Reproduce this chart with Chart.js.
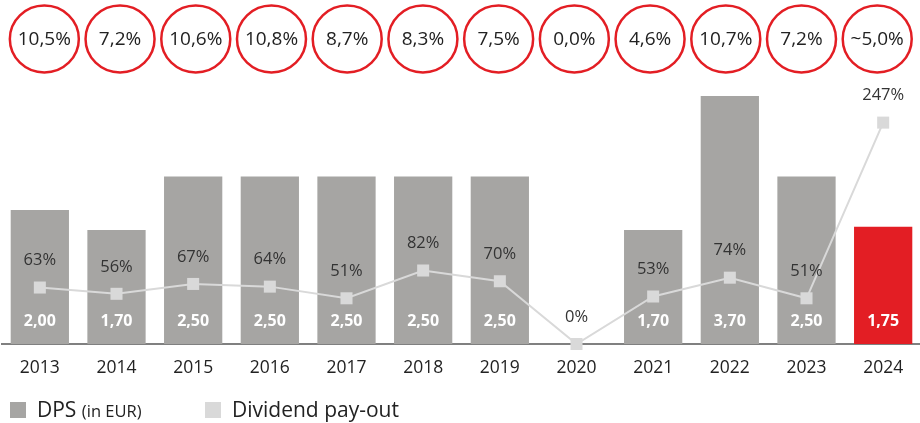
<!DOCTYPE html>
<html>
<head>
<meta charset="utf-8">
<script src="https://cdn.jsdelivr.net/npm/chart.js@4"></script>
<style>
  html, body { margin: 0; padding: 0; background: #fff; overflow: hidden; }
  #wrap { position: relative; width: 920px; height: 423px; overflow: hidden; font-family: "Open Sans", sans-serif; }
  /* canvas is wider than the page so the point overflow padding falls outside */
  #chart { position: absolute; left: -7.5px; top: 0; }
  .legend { position: absolute; top: 396px; color: #222; font-size: 21px; line-height: 26px; white-space: nowrap; }
  .legend .box { display: inline-block; width: 16px; height: 16px; vertical-align: -1px; margin-right: 11px; }
  .legend small { font-size: 16.5px; }
</style>
</head>
<body>
<div id="wrap">
  <canvas id="chart" width="937" height="423"></canvas>
  <div class="legend" style="left:10px"><span class="box" style="background:#a6a5a3"></span>DPS <small>(in EUR)</small></div>
  <div class="legend" style="left:205px"><span class="box" style="background:#d9d9d9"></span>Dividend pay-out</div>
</div>
<script>
const years = ['2013', '2014', '2015', '2016', '2017', '2018', '2019', '2020', '2021', '2022', '2023', '2024'];
const dps = [2.00, 1.70, 2.50, 2.50, 2.50, 2.50, 2.50, 0, 1.70, 3.70, 2.50, 1.75];
const dpsLabels = ['2,00', '1,70', '2,50', '2,50', '2,50', '2,50', '2,50', '', '1,70', '3,70', '2,50', '1,75'];
const payout = [63, 56, 67, 64, 51, 82, 70, 0, 53, 74, 51, 247];
const dividendYield = ['10,5%', '7,2%', '10,6%', '10,8%', '8,7%', '8,3%', '7,5%', '0,0%', '4,6%', '10,7%', '7,2%', '~5,0%'];

const grey = '#a6a5a3';
const red = '#e31e24';
const lineGrey = '#d9d9d9';
const font = '"Open Sans", sans-serif';

// labels on bars / points and the yield circles on top
const labelPlugin = {
    id: 'labels',
    afterDatasetsDraw(chart) {
        const ctx = chart.ctx;
        const xScale = chart.scales.x;
        const lineMeta = chart.getDatasetMeta(0);
        const base = chart.chartArea.bottom;
        ctx.save();
        ctx.textAlign = 'center';
        ctx.textBaseline = 'middle';

        // payout labels
        ctx.fillStyle = '#333';
        ctx.font = '16.5px ' + font;
        lineMeta.data.forEach((pt, i) => {
            ctx.fillText(payout[i] + '%', pt.x, pt.y - 27);
        });

        // DPS labels inside bars
        ctx.fillStyle = '#fff';
        ctx.font = 'bold 16px ' + font;
        years.forEach((y, i) => {
            if (dpsLabels[i]) ctx.fillText(dpsLabels[i], xScale.getPixelForValue(i), base - 23);
        });

        // dividend yield circles (row is slightly narrower than the bars)
        ctx.font = '19px ' + font;
        ctx.lineWidth = 2.5;
        ctx.strokeStyle = red;
        dividendYield.forEach((t, i) => {
            const cx = xScale.getPixelForValue(i) + 4.5 - i * 0.95;
            ctx.beginPath();
            ctx.ellipse(cx, 39, 34.5, 33.5, 0, 0, 2 * Math.PI);
            ctx.stroke();
            ctx.fillStyle = '#222';
            ctx.fillText(t, cx, 40);
        });
        ctx.restore();
    }
};

new Chart(document.getElementById('chart').getContext('2d'), {
    data: {
        labels: years,
        datasets: [
            {
                type: 'line',
                label: 'Dividend pay-out',
                data: payout,
                yAxisID: 'y2',
                borderColor: lineGrey,
                borderWidth: 2,
                pointStyle: 'rect',
                pointRadius: 8.5,
                pointBackgroundColor: lineGrey,
                pointBorderWidth: 0,
                tension: 0,
                clip: false
            },
            {
                type: 'bar',
                label: 'DPS (in EUR)',
                data: dps,
                yAxisID: 'y',
                backgroundColor: dps.map((v, i) => i === dps.length - 1 ? red : grey),
                barPercentage: 0.76,
                categoryPercentage: 1
            }
        ]
    },
    options: {
        responsive: false,
        animation: false,
        layout: { padding: { top: 76, left: 2, right: 0, bottom: 30 } },
        plugins: { legend: { display: false }, tooltip: { enabled: false } },
        scales: {
            x: {
                grid: { display: false, drawTicks: false },
                border: { display: true, color: '#808080', width: 2 },
                ticks: { color: '#222', font: { family: font, size: 17.5 }, padding: 14 }
            },
            y: { display: false, min: 0, max: 4 },
            y2: { display: false, min: 0, max: 299 }
        }
    },
    plugins: [labelPlugin]
});
</script>
</body>
</html>
